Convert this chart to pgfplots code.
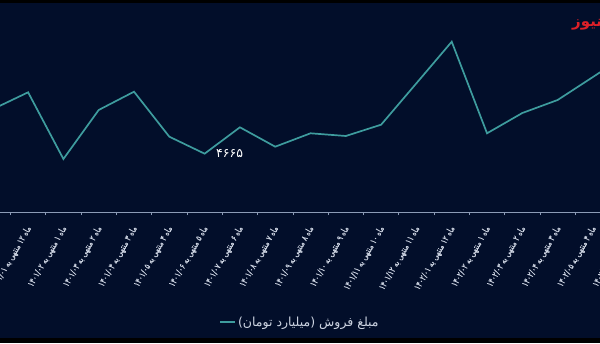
\documentclass[border=0pt]{standalone}
\usepackage{fontspec}
\usepackage{pgfplots}
\pgfplotsset{compat=1.18}
\TeXXeTstate=1
\newfontfamily\fa[Script=Arabic]{DejaVu Sans}
\newfontfamily\falab[Script=Arabic, FakeStretch=0.76, FakeBold=0.5]{DejaVu Sans}
\newfontfamily\fab[Script=Arabic]{DejaVu Sans Bold}
\definecolor{bg}{RGB}{2,14,42}
\definecolor{teal1}{RGB}{62,156,158}
\definecolor{axgray}{RGB}{140,155,182}
\definecolor{lab}{RGB}{205,212,226}
\definecolor{logo}{RGB}{222,32,40}
\newcommand{\lab}[3]{\falab\beginR ماه #1 منتهی به \beginL#2/#3\endL\endR}
\begin{document}
\begin{tikzpicture}
\path[use as bounding box] (0pt,-131pt) rectangle (600pt,212pt);
\clip (0pt,-131pt) rectangle (600pt,212pt);
\fill[black] (0pt,-131pt) rectangle (600pt,212pt);
\fill[bg] (0pt,-126pt) rectangle (600pt,209pt);
\node[anchor=west, font=\fab\fontsize{15}{15}\selectfont, text=logo, inner sep=0pt] at (572pt,187pt) {\beginR نیوز\endR};
\begin{axis}[
  at={(0pt,0pt)}, anchor=south west,
  width=600pt, height=212pt, scale only axis,
  xmin=0.204, xmax=17.2, ymin=0, ymax=16961,
  axis x line*=bottom, axis y line=none,
  x axis line style={color=axgray, line width=0.8pt},
  clip mode=individual,
  xtick={1,...,17},
  xticklabels={
    {\lab{۱۲}{۱۴۰۱}{۰۱}},{\lab{۱}{۱۴۰۱}{۰۲}},{\lab{۲}{۱۴۰۱}{۰۳}},{\lab{۳}{۱۴۰۱}{۰۴}},
    {\lab{۴}{۱۴۰۱}{۰۵}},{\lab{۵}{۱۴۰۱}{۰۶}},{\lab{۶}{۱۴۰۱}{۰۷}},{\lab{۷}{۱۴۰۱}{۰۸}},
    {\lab{۸}{۱۴۰۱}{۰۹}},{\lab{۹}{۱۴۰۱}{۱۰}},{\lab{۱۰}{۱۴۰۱}{۱۱}},{\lab{۱۱}{۱۴۰۱}{۱۲}},
    {\lab{۱۲}{۱۴۰۲}{۰۱}},{\lab{۱}{۱۴۰۲}{۰۲}},{\lab{۲}{۱۴۰۲}{۰۳}},{\lab{۳}{۱۴۰۲}{۰۴}},
    {\lab{۴}{۱۴۰۲}{۰۵}}},
  major tick length=0pt,
  minor xtick={0.5,1.5,...,16.5},
  minor tick length=3pt,
  tick align=outside,
  tick style={color=axgray, line width=0.6pt},
  xticklabel style={yshift=-12pt, xshift=3pt, rotate=60, anchor=east, text=lab, font=\fontsize{9}{9}\selectfont},
  legend style={at={(0.5,-0.519)}, anchor=center, draw=none, fill=none, text=lab, font=\fa\fontsize{12.5}{13}\selectfont, legend cell align=left},
  legend image code/.code={\draw[#1] (0pt,0pt) -- (15pt,0pt);},
]
\addplot[teal1, line width=1.7pt] coordinates {
(0,8225) (1,9577) (2,4241) (3,8161) (4,9625) (5,6025) (6,4665) (7,6777)
(8,5225) (9,6297) (10,6081) (11,6985) (12,10300) (13,13625) (14,6297)
(15,7921) (16,8961) (17,10801) (18,12657)};
\addlegendentry{\beginR مبلغ فروش (میلیارد تومان)\endR}
\node[anchor=west, text=white, font=\fa\fontsize{12.5}{12.5}\selectfont, xshift=8pt] at (axis cs:6,4665) {۴۶۶۵};
\node[yshift=-12pt, xshift=3pt, rotate=60, anchor=east, text=lab, font=\fontsize{9}{9}\selectfont] at (axis cs:18,0) {\lab{۵}{۱۴۰۲}{۰۶}};
\end{axis}
\end{tikzpicture}
\end{document}
